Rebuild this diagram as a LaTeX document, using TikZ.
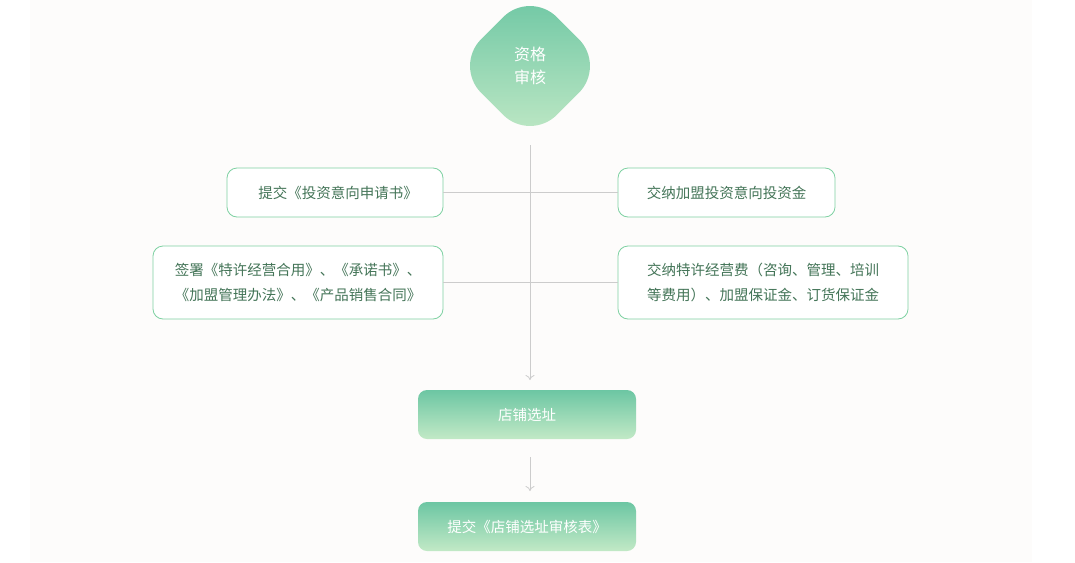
\documentclass[tikz,border=0pt]{standalone}
\usepackage{fontspec}
\setmainfont{Noto Sans CJK SC}
\usetikzlibrary{arrows.meta}
\definecolor{gtop}{HTML}{6CC6A3}
\definecolor{gbot}{HTML}{C2E9C6}
\definecolor{bord}{HTML}{7ED1A2}
\definecolor{txt}{HTML}{447558}
\definecolor{lgray}{HTML}{CCCCCC}
\definecolor{bgc}{HTML}{FDFCFB}
\tikzset{
  outbox/.style={draw=bord, line width=0.8pt, fill=white, rounded corners=10pt, text=txt, font=\fontsize{14.5}{25}\selectfont, inner sep=0pt},
  greenbox/.style={top color=gtop, bottom color=gbot, draw=none, rounded corners=9pt, text=white, font=\fontsize{14.5}{25}\selectfont, inner sep=0pt, minimum width=218pt, minimum height=49pt},
  conn/.style={draw=lgray, line width=0.8pt},
  arr/.style={draw=lgray, line width=0.8pt, -{To[length=5pt,width=9pt]}}
}
\begin{document}
\begin{tikzpicture}[x=1pt,y=-1pt]
\useasboundingbox (0,0) rectangle (1075,562);
\fill[white] (0,0) rectangle (1075,562);
\fill[bgc] (30,0) rectangle (1032,562);
% diamond
\begin{scope}
\clip (0,0) rectangle (1075,562);
\shade[top color=gtop, bottom color=gbot, rounded corners=38pt]
  (530,-9.7) -- (605.7,66) -- (530,141.7) -- (454.3,66) -- cycle;
\end{scope}
\node[text=white, font=\fontsize{16}{23}\selectfont, align=center] (dia) at (530,66) {资格\\审核};
% boxes
\node[outbox, minimum width=216pt, minimum height=49pt] (b1) at (335,192.5) {\hspace{6pt}提交《投资意向申请书》};
\node[outbox, minimum width=217pt, minimum height=49pt] (b2) at (726.5,192.5) {交纳加盟投资意向投资金};
\node[outbox, minimum width=290pt, minimum height=73pt, align=center] (b3) at (298,282.5) {签署《特许经营合用》、《承诺书》、\\《加盟管理办法》、《产品销售合同》};
\node[outbox, minimum width=290pt, minimum height=73pt, align=left] (b4) at (763,282.5) {交纳特许经营费（咨询、管理、培训\\等费用）、加盟保证金、订货保证金};
\node[greenbox] (b5) at (527,414.5) {店铺选址};
\node[greenbox] (b6) at (527,526.5) {提交《店铺选址审核表》};
% connectors
\coordinate (c1) at (530,145);
\coordinate (c2) at (530,380);
\coordinate (c3) at (530,457);
\coordinate (c4) at (530,491);
\draw[conn] (b1.east) -- (b2.west);
\draw[conn] (b3.east) -- (b4.west);
\draw[arr] (c1) -- (c2);
\draw[arr] (c3) -- (c4);
\end{tikzpicture}
\end{document}
